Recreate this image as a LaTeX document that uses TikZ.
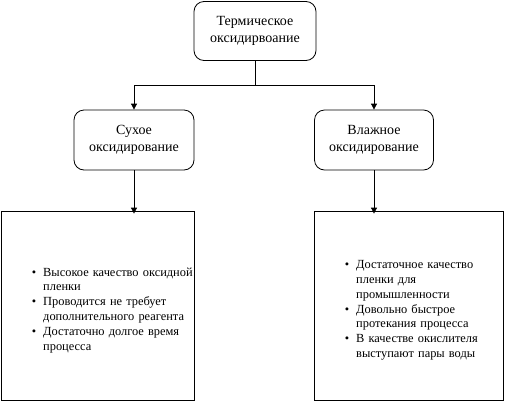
\documentclass[tikz,border=0pt]{standalone}
\usepackage{fontspec}
\setmainfont{Liberation Serif}
\usetikzlibrary{arrows.meta}
\newenvironment{dotlist}{\begin{list}{\textbullet}{\setlength{\leftmargin}{12pt}\setlength{\labelwidth}{5pt}\setlength{\labelsep}{7pt}\setlength{\itemsep}{0pt}\setlength{\parsep}{0pt}\setlength{\topsep}{0pt}\setlength{\partopsep}{0pt}}}{\end{list}}
\tikzset{
  stage/.style={draw, rounded corners=10pt, line width=0.8pt, align=center,
    font=\fontsize{14}{17}\selectfont, inner sep=0pt},
  infobox/.style={draw, line width=0.8pt, inner sep=0pt},
  arr/.style={line width=0.8pt, -{Triangle[length=6pt,width=6pt]}},
  lnk/.style={line width=0.8pt},
  listtext/.style={anchor=west, inner sep=0pt, font=\fontsize{12.4}{14.8}\selectfont}
}
\begin{document}
\begin{tikzpicture}[x=1pt,y=-1pt]
\useasboundingbox (0,0) rectangle (505,402);
% process stages
\node[stage, minimum width=122pt, minimum height=59pt] (top) at (255,31) {Термическое\\оксидирвоание};
\node[stage, minimum width=120pt, minimum height=60pt] (dry) at (134,140) {Сухое\\оксидирование};
\node[stage, minimum width=119pt, minimum height=60pt] (wet) at (374,140) {Влажное\\оксидирование};
% descriptive boxes
\node[infobox, minimum width=193pt, minimum height=189pt] (dryinfo) at (97.5,305.5) {};
\node[infobox, minimum width=189pt, minimum height=189pt] (wetinfo) at (408.5,305.5) {};
\node[listtext, text width=200pt] (drytext) at (31,307) {%
\begin{dotlist}
\item Высокое качество оксидной\\пленки
\item Проводится не требует\\дополнительного реагента
\item Достаточно долгое время\\процесса
\end{dotlist}};
\node[listtext, text width=180pt] (wettext) at (344,307) {%
\begin{dotlist}
\item Достаточное качество\\пленки для\\промышленности
\item Довольно быстрое\\протекания процесса
\item В качестве окислителя\\выступают пары воды
\end{dotlist}};
% connectors
\coordinate (split) at (255,85);
\draw[lnk] (top.south) -- (split);
\draw[arr] (split) -| (dry.north);
\draw[arr] (split) -| (wet.north);
\draw[arr] (dry.south) -- ([yshift=-3pt]dryinfo.north -| dry.south);
\draw[arr] (wet.south) -- ([yshift=-3pt]wetinfo.north -| wet.south);
\end{tikzpicture}
\end{document}
